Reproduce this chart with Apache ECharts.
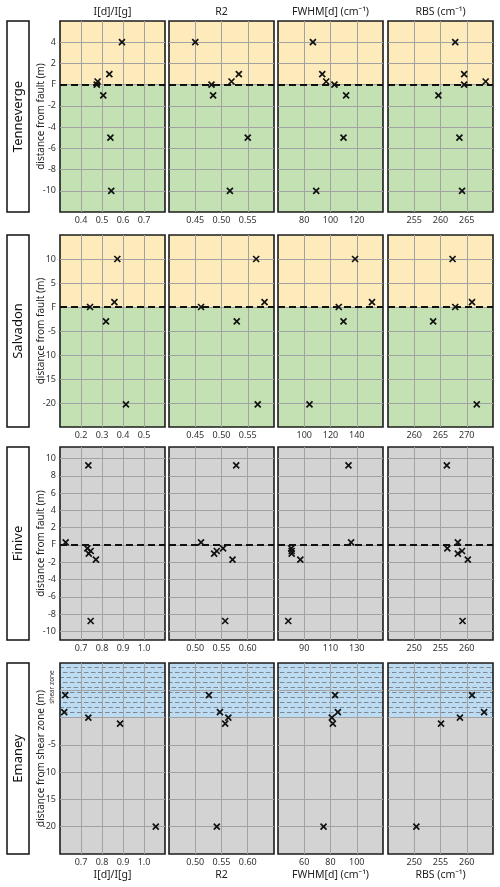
<!DOCTYPE html>
<html>
<head>
<meta charset="utf-8">
<script src="https://cdn.jsdelivr.net/npm/echarts@6.0.0/dist/echarts.min.js"></script>
<style>
  html, body { margin: 0; background: #fff; }
  #chart { width: 500px; height: 887px; }
</style>
</head>
<body>
<div id="chart"></div>
<script>
// 列标题 / 行标题
const metricNames = ['I[d]/I[g]', 'R2', 'FWHM[d] (cm⁻¹)', 'RBS (cm⁻¹)'];
const siteNames = ['Tenneverge', 'Salvadon', 'Finive', 'Emaney'];

// Tenneverge: distance from fault (m)，每个样品一个值
const tennDist = [4, 1, 0.3, 0, -1, -5, -10];
const tennIdIg = [0.595, 0.535, 0.479, 0.475, 0.506, 0.54, 0.544];
const tennR2 = [0.45, 0.533, 0.519, 0.481, 0.484, 0.55, 0.516];
const tennFwhm = [86.6, 93.7, 96.7, 103, 111.9, 109.9, 89.1];
const tennRbs = [262.8, 264.5, 268.6, 264.5, 259.6, 263.6, 264.1];

// Salvadon
const salvDist = [10, 1, 0, -3, -20.3];
const salvIdIg = [0.373, 0.359, 0.243, 0.319, 0.414];
const salvR2 = [0.566, 0.582, 0.461, 0.529, 0.569];
const salvFwhm = [138.7, 151.6, 126.3, 129.9, 104];
const salvRbs = [267.3, 271, 267.8, 263.6, 271.9];

// Finive
const finDist = [9.2, 0.3, -0.4, -0.7, -1.0, -1.7, -8.8];
const finIdIg = [0.735, 0.627, 0.73, 0.746, 0.737, 0.771, 0.746];
const finR2 = [0.578, 0.511, 0.553, 0.541, 0.536, 0.571, 0.557];
const finFwhm = [123.7, 125.7, 80.1, 80.4, 80.4, 87, 77.8];
const finRbs = [256.2, 258.3, 256.3, 259.1, 258.3, 260.2, 259.2];

// Emaney: distance from shear zone (m)
const emaDist = [4.1, 1, 0, -1.1, -20];
const emaIdIg = [0.625, 0.62, 0.735, 0.886, 1.056];
const emaR2 = [0.526, 0.547, 0.563, 0.557, 0.541];
const emaFwhm = [83.5, 85.6, 81, 81.8, 74.7];
const emaRbs = [261, 263.3, 258.7, 255.1, 250.4];

// x轴刻度与范围
const tennXTicks = [[0.4, 0.5, 0.6, 0.7], [0.45, 0.50, 0.55], [80, 100, 120], [255, 260, 265]];
const salvXTicks = [[0.2, 0.3, 0.4, 0.5], [0.45, 0.50, 0.55], [100, 120, 140], [260, 265, 270]];
const finXTicks = [[0.7, 0.8, 0.9, 1.0], [0.50, 0.55, 0.60], [90, 110, 130], [250, 255, 260]];
const emaXTicks = [[0.7, 0.8, 0.9, 1.0], [0.50, 0.55, 0.60], [60, 80, 100], [250, 255, 260]];
const tennXRange = [[0.3, 0.8], [0.40, 0.60], [60, 140], [250, 270]];
const salvXRange = [[0.1, 0.6], [0.40, 0.60], [80, 160], [255, 275]];
const finXRange = [[0.6, 1.1], [0.45, 0.65], [70, 150], [245, 265]];
const emaXRange = [[0.6, 1.1], [0.45, 0.65], [40, 120], [245, 265]];

// y轴刻度与范围
const tennYTicks = [-10, -8, -6, -4, -2, 0, 2, 4];
const salvYTicks = [-20, -15, -10, -5, 0, 5, 10];
const finYTicks = [-10, -8, -6, -4, -2, 0, 2, 4, 6, 8, 10];
const emaYTicks = [-20, -15, -10, -5, 0, 5];
const emaYLabels = [-20, -15, -10, -5];
const tennYRange = [-12, 6];
const salvYRange = [-25, 15];
const finYRange = [-11, 11.33];
const emaYRange = [-25, 10];

// 颜色
const YELLOW = '#fdebbb';
const GREEN = '#c3e1b2';
const GRAY = '#d3d3d4';
const GRID_LINE = '#a2a2a2';

// 剪切带的虚线填充
function shearPattern() {
    const c = document.createElement('canvas');
    c.width = 14; c.height = 10;
    const g = c.getContext('2d');
    g.fillStyle = '#bddcf1';
    g.fillRect(0, 0, 14, 10);
    g.strokeStyle = '#7d8893';
    g.lineWidth = 1;
    g.beginPath();
    g.moveTo(0, 2.5); g.lineTo(4.5, 2.5);
    g.moveTo(7, 2.5); g.lineTo(11.5, 2.5);
    g.moveTo(3.5, 7.5); g.lineTo(8, 7.5);
    g.moveTo(10.5, 7.5); g.lineTo(14, 7.5);
    g.moveTo(0, 7.5); g.lineTo(1, 7.5);
    g.stroke();
    return c;
}

const sites = [
    { dist: tennDist, values: [tennIdIg, tennR2, tennFwhm, tennRbs], xTicks: tennXTicks, xRange: tennXRange,
      yTicks: tennYTicks, yLabels: tennYTicks, yRange: tennYRange, yName: 'distance from fault (m)', fault: true,
      zones: [[0, tennYRange[1], YELLOW], [tennYRange[0], 0, GREEN]] },
    { dist: salvDist, values: [salvIdIg, salvR2, salvFwhm, salvRbs], xTicks: salvXTicks, xRange: salvXRange,
      yTicks: salvYTicks, yLabels: salvYTicks, yRange: salvYRange, yName: 'distance from fault (m)', fault: true,
      zones: [[0, salvYRange[1], YELLOW], [salvYRange[0], 0, GREEN]] },
    { dist: finDist, values: [finIdIg, finR2, finFwhm, finRbs], xTicks: finXTicks, xRange: finXRange,
      yTicks: finYTicks, yLabels: finYTicks, yRange: finYRange, yName: 'distance from fault (m)', fault: true,
      zones: [[finYRange[0], finYRange[1], GRAY]] },
    { dist: emaDist, values: [emaIdIg, emaR2, emaFwhm, emaRbs], xTicks: emaXTicks, xRange: emaXRange,
      yTicks: emaYTicks, yLabels: emaYLabels, yRange: emaYRange, yName: 'distance from shear zone (m)', fault: false,
      zones: [[0, emaYRange[1], { image: shearPattern(), repeat: 'repeat' }], [emaYRange[0], 0, GRAY]] }
];

// 布局
const colLeft = [60, 169, 278, 388];
const panelW = 105;
const rowTop = [21, 235, 447, 663];
const panelH = [191, 192, 193, 191];
const xDecimals = [1, 2, 0, 0];
const FONT = 'Noto Sans';

const grids = [], xAxes = [], yAxes = [], series = [], graphics = [];

sites.forEach((site, r) => {
    site.values.forEach((vals, c) => {
        const i = grids.length;
        grids.push({
            left: colLeft[c], top: rowTop[r], width: panelW, height: panelH[r],
            show: true, backgroundColor: 'transparent', borderColor: '#1c1c1c', borderWidth: 1.6
        });
        xAxes.push({
            type: 'value', gridIndex: i,
            min: site.xRange[c][0], max: site.xRange[c][1],
            axisLine: { show: false },
            axisTick: { show: false, customValues: site.xTicks[c] },
            axisLabel: {
                customValues: site.xTicks[c],
                formatter: v => v.toFixed(xDecimals[c]),
                fontSize: 9, color: '#333', margin: 4, fontFamily: FONT
            },
            splitLine: { show: true, lineStyle: { color: GRID_LINE, width: 1 } },
            name: r === 3 ? metricNames[c] : '',
            nameLocation: 'middle', nameGap: 16, nameMoveOverlap: false,
            nameTextStyle: { fontSize: 10.5, color: '#222', fontFamily: FONT }
        });
        yAxes.push({
            type: 'value', gridIndex: i,
            min: site.yRange[0], max: site.yRange[1],
            axisLine: { show: false },
            axisTick: { show: false, customValues: site.yTicks },
            axisLabel: {
                show: c === 0,
                customValues: site.yLabels,
                formatter: v => (v === 0 ? 'F' : String(v)),
                fontSize: 9, color: '#333', margin: 4, fontFamily: FONT
            },
            splitLine: { show: true, lineStyle: { color: GRID_LINE, width: 1 } },
            name: c === 0 ? site.yName : '',
            nameLocation: 'middle', nameRotate: 90, nameGap: 14, nameMoveOverlap: false,
            nameTextStyle: { fontSize: 10, color: '#222', fontFamily: FONT }
        });
        // 背景色块
        series.push({
            type: 'scatter', xAxisIndex: i, yAxisIndex: i, z: -1, silent: true, data: [],
            markArea: {
                silent: true, z: -1,
                label: { show: false },
                data: site.zones.map(zn => [
                    { yAxis: zn[0], itemStyle: { color: zn[2], borderWidth: 0 } },
                    { yAxis: zn[1] }
                ])
            }
        });
        // 数据点 ×
        series.push({
            type: 'scatter', xAxisIndex: i, yAxisIndex: i, z: 3, silent: true,
            symbol: 'path://M0,0L10,10M10,0L0,10', symbolSize: 6,
            itemStyle: { color: 'rgba(0,0,0,0)', borderColor: '#111', borderWidth: 1.7, opacity: 1 },
            data: vals.map((v, k) => [v, site.dist[k]]),
            markLine: site.fault ? {
                silent: true, symbol: 'none', label: { show: false },
                lineStyle: { color: '#111', width: 2, type: [7, 4] },
                data: [{ yAxis: 0 }]
            } : undefined
        });
    });

    // 行标题框
    graphics.push({
        type: 'rect', shape: { x: 7, y: rowTop[r], width: 22, height: panelH[r] },
        style: { fill: '#fff', stroke: '#111', lineWidth: 1.5 }
    });
    graphics.push({
        type: 'text', x: 18, y: rowTop[r] + panelH[r] / 2, rotation: Math.PI / 2,
        style: { text: siteNames[r], fontSize: 13, fontFamily: FONT, fill: '#111', align: 'center', verticalAlign: 'middle' }
    });
});

// 顶部列标题
metricNames.forEach((m, c) => {
    graphics.push({
        type: 'text', x: colLeft[c] + panelW / 2, y: 12,
        style: { text: m, fontSize: 10.5, fontFamily: FONT, fill: '#222', align: 'center', verticalAlign: 'middle' }
    });
});

// shear zone 小字
graphics.push({
    type: 'text', x: 52, y: 687, rotation: Math.PI / 2,
    style: { text: 'shear zone', fontSize: 6.5, fontFamily: FONT, fill: '#333', align: 'center', verticalAlign: 'middle' }
});

const chart = echarts.init(document.getElementById('chart'));
chart.setOption({
    animation: false,
    backgroundColor: '#fff',
    grid: grids,
    xAxis: xAxes,
    yAxis: yAxes,
    series: series,
    graphic: graphics
});
</script>
</body>
</html>
